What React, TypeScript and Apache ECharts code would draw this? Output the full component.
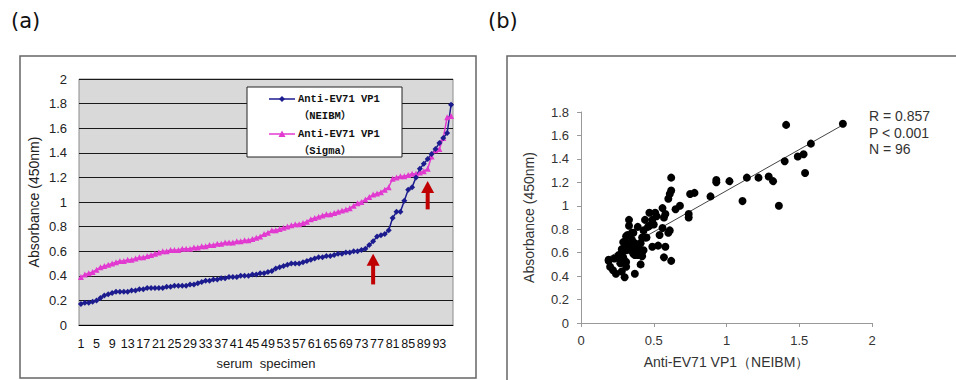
import React, { useEffect, useRef } from "react";
import * as echarts from "echarts";

// ---- Panel (a): sorted absorbance of 96 serum specimens ----
const specimens: string[] = Array.from({ length: 96 }, (_, i) => String(i + 1));

const neibm: number[] = [
  0.17, 0.18, 0.18, 0.19, 0.2, 0.22, 0.24, 0.25, 0.26, 0.27,
  0.27, 0.27, 0.27, 0.28, 0.28, 0.29, 0.29, 0.3, 0.3, 0.3,
  0.3, 0.3, 0.31, 0.31, 0.32, 0.32, 0.32, 0.32, 0.33, 0.33,
  0.34, 0.35, 0.36, 0.36, 0.37, 0.37, 0.38, 0.38, 0.39, 0.39,
  0.39, 0.4, 0.4, 0.4, 0.41, 0.41, 0.42, 0.42, 0.43, 0.44,
  0.46, 0.47, 0.48, 0.49, 0.5, 0.5, 0.5, 0.51, 0.52, 0.53,
  0.54, 0.55, 0.55, 0.56, 0.56, 0.57, 0.58, 0.58, 0.59, 0.59,
  0.6, 0.6, 0.61, 0.62, 0.65, 0.68, 0.72, 0.73, 0.74, 0.77,
  0.87, 0.92, 0.92, 1.01, 1.1, 1.12, 1.2, 1.27, 1.31, 1.35,
  1.39, 1.43, 1.48, 1.52, 1.56, 1.79,
];

const sigma: number[] = [
  0.39, 0.41, 0.42, 0.43, 0.45, 0.47, 0.48, 0.49, 0.5, 0.51,
  0.52, 0.52, 0.53, 0.53, 0.54, 0.55, 0.55, 0.56, 0.57, 0.58,
  0.59, 0.6, 0.6, 0.61, 0.61, 0.61, 0.62, 0.62, 0.62, 0.63,
  0.63, 0.64, 0.64, 0.65, 0.65, 0.66, 0.66, 0.67, 0.67, 0.67,
  0.68, 0.68, 0.69, 0.69, 0.7, 0.71, 0.72, 0.74, 0.75, 0.77,
  0.77, 0.78, 0.79, 0.8, 0.81, 0.82, 0.82, 0.83, 0.84, 0.86,
  0.87, 0.88, 0.89, 0.9, 0.9, 0.91, 0.92, 0.93, 0.94, 0.95,
  0.97, 0.99, 1.0, 1.02, 1.04, 1.06, 1.07, 1.08, 1.1, 1.12,
  1.19, 1.2, 1.21, 1.21, 1.22, 1.23, 1.23, 1.24, 1.25, 1.27,
  1.37, 1.42, 1.43, 1.52, 1.69, 1.7,
];

// arrows: [category index (0-based), tip value, base value]
const arrows: number[][] = [
  [75, 0.58, 0.33],
  [89, 1.17, 0.94],
];

// ---- Panel (b): correlation scatter ----
const scatterPoints: number[][] = [
  [1.8, 1.7], [1.41, 1.69], [1.58, 1.53], [1.4, 1.38], [1.49, 1.42],
  [1.53, 1.44], [1.54, 1.28], [1.36, 1.0], [1.32, 1.21], [1.29, 1.25],
  [1.22, 1.24], [1.14, 1.24], [1.11, 1.04], [1.02, 1.21], [0.93, 1.22],
  [0.93, 1.2], [0.89, 1.08], [0.78, 1.11], [0.75, 1.1], [0.74, 0.93],
  [0.74, 0.9], [0.68, 1.0], [0.65, 0.97], [0.62, 1.24], [0.62, 1.13],
  [0.61, 1.1], [0.6, 1.06], [0.61, 0.79], [0.6, 0.77], [0.62, 0.53],
  [0.57, 0.56], [0.58, 0.65], [0.56, 0.98], [0.57, 0.9], [0.54, 0.75],
  [0.53, 0.66], [0.51, 0.94], [0.52, 0.91], [0.5, 0.84], [0.47, 0.94],
  [0.47, 0.83], [0.49, 0.65], [0.45, 0.73], [0.44, 0.88], [0.43, 0.62],
  [0.42, 0.73], [0.43, 0.79], [0.41, 0.68], [0.42, 0.57], [0.41, 0.5],
  [0.39, 0.82], [0.38, 0.62], [0.37, 0.42], [0.35, 0.68], [0.35, 0.77],
  [0.33, 0.88], [0.33, 0.83], [0.32, 0.75], [0.31, 0.68], [0.3, 0.69],
  [0.31, 0.62], [0.29, 0.56], [0.31, 0.52], [0.31, 0.48], [0.3, 0.39],
  [0.28, 0.63], [0.27, 0.54], [0.28, 0.44], [0.24, 0.42], [0.22, 0.45],
  [0.2, 0.48], [0.19, 0.53], [0.19, 0.54], [0.36, 0.59], [0.37, 0.65],
  [0.39, 0.58], [0.27, 0.51], [0.26, 0.58], [0.31, 0.74], [0.35, 0.71],
  [0.37, 0.68], [0.39, 0.65], [0.34, 0.62], [0.29, 0.69], [0.28, 0.59],
  [0.23, 0.55], [0.3, 0.53], [0.37, 0.58], [0.42, 0.61], [0.46, 0.82],
  [0.49, 0.88], [0.56, 0.81], [0.58, 0.93], [0.44, 0.73], [0.33, 0.65],
  [0.36, 0.77],
];

const regression: number[][] = [
  [0.19, 0.56],
  [1.8, 1.69],
];

const stats: string[] = ["R = 0.857", "P < 0.001", "N = 96"];

const BLUE = "#1c1c8f";
const PINK = "#e23ad0";
const SANS = "'Liberation Sans', Arial, sans-serif";
const MONO = "'Liberation Mono', 'Noto Sans CJK SC', monospace";

export default function App() {
  const ref = useRef<HTMLDivElement>(null);

  useEffect(() => {
    if (!ref.current) return;
    const chart = echarts.init(ref.current, undefined, { renderer: "svg" });

    const option: any = {
      animation: false,
      backgroundColor: "#ffffff",
      grid: [
        {
          left: 79, top: 79, width: 374, height: 246,
          show: true, backgroundColor: "#d9d9d9", borderColor: "#8c8c8c", borderWidth: 1,
        },
        { left: 581, top: 112, width: 291, height: 211 },
      ],
      xAxis: [
        {
          type: "category",
          gridIndex: 0,
          data: specimens,
          boundaryGap: true,
          axisLine: { lineStyle: { color: "#000", width: 1 } },
          axisTick: { interval: 0, length: 4, lineStyle: { color: "#000", width: 1 } },
          axisLabel: { interval: 3, margin: 12, fontSize: 12.5, color: "#111", fontFamily: SANS },
          name: "serum  specimen",
          nameLocation: "middle",
          nameGap: 32,
          nameTextStyle: { fontSize: 13, color: "#222", fontFamily: SANS },
        },
        {
          type: "value",
          gridIndex: 1,
          min: 0, max: 2, interval: 0.5,
          splitLine: { show: false },
          axisLine: { lineStyle: { color: "#999", width: 1 } },
          axisTick: { show: true, length: 4, lineStyle: { color: "#999" } },
          axisLabel: { margin: 11, fontSize: 13, color: "#333", fontFamily: SANS },
          name: "Anti-EV71 VP1（NEIBM）",
          nameLocation: "middle",
          nameGap: 32,
          nameTextStyle: { fontSize: 14, color: "#333", fontFamily: SANS },
        },
      ],
      yAxis: [
        {
          type: "value",
          gridIndex: 0,
          min: 0, max: 2, interval: 0.2,
          axisLine: { show: false },
          axisTick: { show: false },
          splitLine: { lineStyle: { color: "#1a1a1a", width: 1.2 } },
          axisLabel: { margin: 12, fontSize: 13, color: "#222", fontFamily: SANS },
          name: "Absorbance (450nm)",
          nameLocation: "middle",
          nameGap: 38,
          nameTextStyle: { fontSize: 14, color: "#222", fontFamily: SANS },
        },
        {
          type: "value",
          gridIndex: 1,
          min: 0, max: 1.8, interval: 0.2,
          splitLine: { show: false },
          axisLine: { show: true, lineStyle: { color: "#999", width: 1 } },
          axisTick: { show: true, length: 4, lineStyle: { color: "#999" } },
          axisLabel: { margin: 12, fontSize: 13, color: "#333", fontFamily: SANS },
          name: "Absorbance (450nm)",
          nameLocation: "middle",
          nameGap: 45,
          nameTextStyle: { fontSize: 14, color: "#333", fontFamily: SANS },
        },
      ],
      series: [
        {
          name: "Anti-EV71 VP1 (Sigma)",
          type: "line",
          xAxisIndex: 0, yAxisIndex: 0,
          data: sigma,
          symbol: "triangle",
          symbolSize: 6,
          showAllSymbol: true,
          lineStyle: { color: PINK, width: 1.5 },
          itemStyle: { color: PINK },
        },
        {
          name: "Anti-EV71 VP1 (NEIBM)",
          type: "line",
          xAxisIndex: 0, yAxisIndex: 0,
          data: neibm,
          symbol: "diamond",
          symbolSize: 6,
          showAllSymbol: true,
          lineStyle: { color: BLUE, width: 1.5 },
          itemStyle: { color: BLUE },
        },
        {
          type: "custom",
          xAxisIndex: 0, yAxisIndex: 0,
          data: arrows,
          z: 5,
          renderItem: (params: any, api: any) => {
            const cx = api.value(0);
            const tip = api.coord([cx, api.value(1)]);
            const base = api.coord([cx, api.value(2)]);
            const headH = 12;
            const headW = 6.5;
            return {
              type: "group",
              children: [
                {
                  type: "polygon",
                  shape: {
                    points: [
                      [tip[0], tip[1]],
                      [tip[0] - headW, tip[1] + headH],
                      [tip[0] + headW, tip[1] + headH],
                    ],
                  },
                  style: { fill: "#c00000" },
                },
                {
                  type: "rect",
                  shape: { x: tip[0] - 2, y: tip[1] + headH - 1, width: 4, height: base[1] - tip[1] - headH + 1 },
                  style: { fill: "#c00000" },
                },
              ],
            };
          },
        },
        {
          name: "scatter",
          type: "scatter",
          xAxisIndex: 1, yAxisIndex: 1,
          data: scatterPoints,
          symbolSize: 8,
          itemStyle: { color: "#000", opacity: 1 },
        },
        {
          name: "fit",
          type: "line",
          xAxisIndex: 1, yAxisIndex: 1,
          data: regression,
          symbol: "none",
          lineStyle: { color: "#444", width: 1 },
          z: 1,
        },
      ],
      graphic: [
        // panel frames
        {
          type: "rect", z: 0,
          shape: { x: 20, y: 56, width: 456, height: 322 },
          style: { fill: "none", stroke: "#666", lineWidth: 1.5 },
        },
        {
          type: "rect", z: 0,
          shape: { x: 507, y: 56, width: 460, height: 340 },
          style: { fill: "none", stroke: "#666", lineWidth: 1.5 },
        },
        // panel labels
        {
          type: "text", x: 11, y: 21,
          style: { text: "(a)", fontSize: 21, fontFamily: "'DejaVu Sans', sans-serif", fill: "#111", verticalAlign: "middle" },
        },
        {
          type: "text", x: 488, y: 21,
          style: { text: "(b)", fontSize: 21, fontFamily: "'DejaVu Sans', sans-serif", fill: "#111", verticalAlign: "middle" },
        },
        // legend box
        {
          type: "rect", z: 100,
          shape: { x: 247, y: 87, width: 155, height: 70 },
          style: { fill: "#fff", stroke: "#222", lineWidth: 1 },
        },
        {
          type: "line", z: 101,
          shape: { x1: 269, y1: 99, x2: 295, y2: 99 },
          style: { stroke: BLUE, lineWidth: 1.5 },
        },
        {
          type: "polygon", z: 101,
          shape: { points: [[282, 96], [285, 99], [282, 102], [279, 99]] },
          style: { fill: BLUE },
        },
        {
          type: "text", z: 101, x: 298, y: 99,
          style: { text: "Anti-EV71 VP1", fontSize: 10.5, fontWeight: "bold", fontFamily: MONO, fill: "#111", verticalAlign: "middle" },
        },
        {
          type: "text", z: 101, x: 325, y: 116,
          style: { text: "（NEIBM）", fontSize: 10.5, fontWeight: "bold", fontFamily: MONO, fill: "#111", align: "center", verticalAlign: "middle" },
        },
        {
          type: "line", z: 101,
          shape: { x1: 269, y1: 134, x2: 295, y2: 134 },
          style: { stroke: PINK, lineWidth: 1.5 },
        },
        {
          type: "polygon", z: 101,
          shape: { points: [[282, 130.5], [285.5, 137], [278.5, 137]] },
          style: { fill: PINK },
        },
        {
          type: "text", z: 101, x: 298, y: 134,
          style: { text: "Anti-EV71 VP1", fontSize: 10.5, fontWeight: "bold", fontFamily: MONO, fill: "#111", verticalAlign: "middle" },
        },
        {
          type: "text", z: 101, x: 325, y: 151,
          style: { text: "（Sigma）", fontSize: 10.5, fontWeight: "bold", fontFamily: MONO, fill: "#111", align: "center", verticalAlign: "middle" },
        },
        // statistics
        ...stats.map((s, i) => ({
          type: "text", z: 101, x: 869, y: 116 + i * 16.5,
          style: { text: s, fontSize: 14, fontFamily: SANS, fill: "#333", verticalAlign: "middle" },
        })),
      ],
    };

    chart.setOption(option);
    return () => {
      chart.dispose();
    };
  }, []);

  return (
    <div
      ref={ref}
      style={{ position: "fixed", left: 0, top: 0, width: 956, height: 380 }}
    />
  );
}
